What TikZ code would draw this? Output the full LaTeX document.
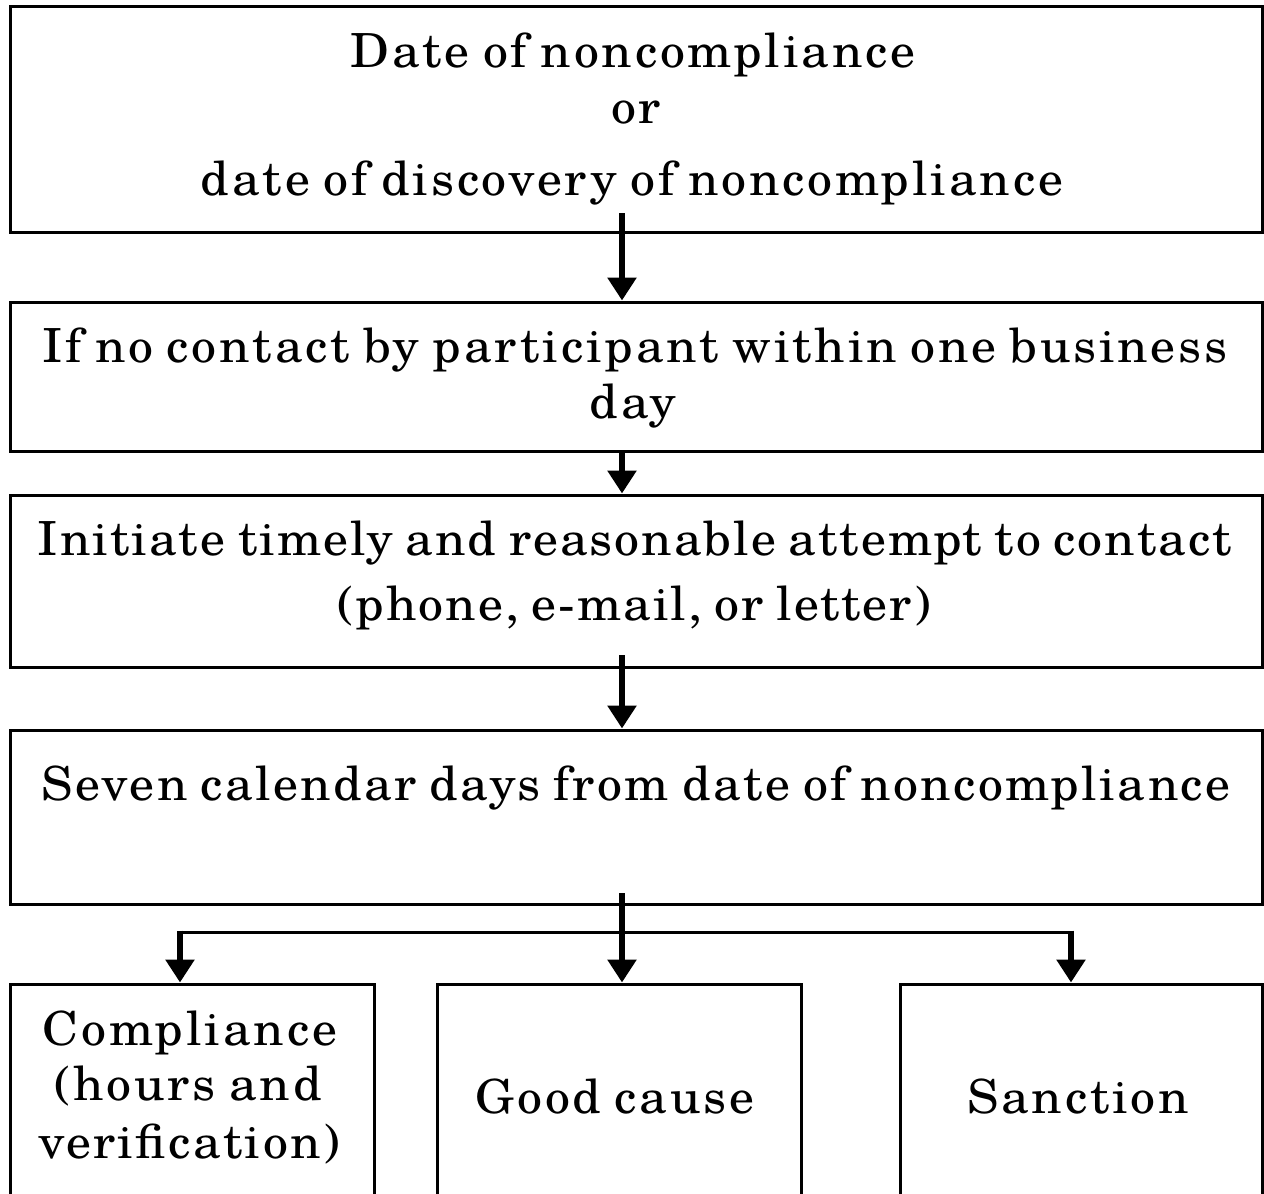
\documentclass[tikz,border=0pt]{standalone}
\usepackage{fontspec}
\setmainfont{texgyreschola-regular.otf}[LetterSpace=6,WordSpace=0.8,FakeStretch=1.06]
\usetikzlibrary{arrows.meta,calc}
\tikzset{
  box/.style={draw=black, line width=1.5pt, inner sep=0pt, fill=none},
  txt/.style={anchor=base, inner sep=0pt, font=\fontsize{23.5}{28}\selectfont},
  arr/.style={draw=black, line width=3.4pt, -{Triangle[width=14pt,length=11.5pt]}},
  thin/.style={draw=black, line width=1.5pt}
}
\begin{document}
\begin{tikzpicture}[x=0.5pt,y=-0.5pt]
\useasboundingbox (0,0) rectangle (1264,1194);
% boxes
\node[box, minimum width=626pt, minimum height=113pt] (b1) at (636,119) {};
\node[box, minimum width=626pt, minimum height=74.5pt] (b2) at (636,376.5) {};
\node[box, minimum width=626pt, minimum height=86pt] (b3) at (636,581) {};
\node[box, minimum width=626pt, minimum height=87pt] (b4) at (636,817) {};
\node[box, minimum width=182pt, minimum height=115pt] (bA) at (192,1099) {};
\node[box, minimum width=182pt, minimum height=115pt] (bB) at (619,1099) {};
\node[box, minimum width=181pt, minimum height=115pt] (bC) at (1081,1099) {};
% texts
\node[txt] (t1a) at (633,68) {Date of noncompliance};
\node[txt] (t1b) at (636,123) {or};
\node[txt] (t1c) at (632,195) {date of discovery of noncompliance};
\node[txt] (t2a) at (635,362) {If no contact by participant within one business};
\node[txt] (t2b) at (633,418) {day};
\node[txt] (t3a) at (635,555) {\addfontfeature{LetterSpace=4.2}Initiate timely and reasonable attempt to contact};
\node[txt] (t3b) at (634,620) {\addfontfeature{LetterSpace=4.2}(phone, e-mail, or letter)};
\node[txt] (t4a) at (636,800) {\addfontfeature{LetterSpace=5.2}Seven calendar days from date of noncompliance};
\node[txt] (tAa) at (190,1045) {Compliance};
\node[txt] (tAb) at (188,1100) {(hours and};
\node[txt] (tAc) at (189,1158) {\addfontfeature{LetterSpace=5}verification)};
\node[txt] (tB) at (615,1113) {Good cause};
\node[txt] (tC) at (1078,1113) {Sanction};
% connectors
\coordinate (s1) at (622,213);
\coordinate (s2) at (622,451);
\coordinate (s3) at (622,655);
\coordinate (s4) at (622,893);
\coordinate (hL) at (180,932);
\coordinate (hR) at (1071,932);
\draw[arr] (s1) -- (b2.north -| s1);
\draw[arr] (s2) -- (b3.north -| s2);
\draw[arr] (s3) -- (b4.north -| s3);
\draw[arr] (s4) -- (bB.north -| s4);
\draw[thin] (hL) -- (hR);
\draw[arr, line width=3pt] ([yshift=0.75pt]hL) -- (bA.north -| hL);
\draw[arr, line width=3pt] ([yshift=0.75pt]hR) -- (bC.north -| hR);
\end{tikzpicture}
\end{document}
